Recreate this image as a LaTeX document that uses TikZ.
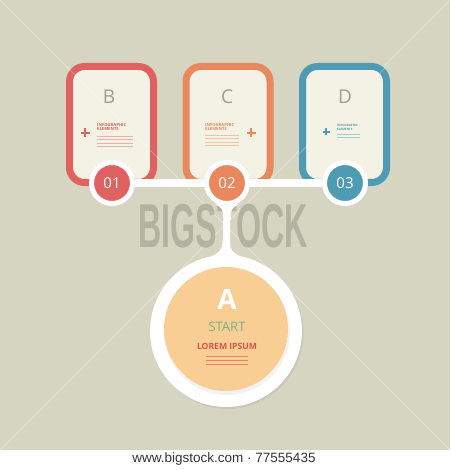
\documentclass[tikz,border=0pt]{standalone}
\usepackage{fontspec}
\setmainfont{Open Sans}
\newfontfamily\footfont{Liberation Sans}
\usetikzlibrary{calc,shadows}
\definecolor{bgc}{RGB}{213,213,193}
\definecolor{cream}{RGB}{244,242,228}
\definecolor{cred}{RGB}{223,98,96}
\definecolor{corange}{RGB}{232,136,92}
\definecolor{cblue}{RGB}{78,156,180}
\definecolor{peach}{RGB}{248,206,148}
\definecolor{sgreen}{RGB}{124,176,130}
\definecolor{lred}{RGB}{215,86,76}
\definecolor{lettergrey}{RGB}{160,160,140}
\definecolor{wm}{RGB}{150,150,135}
\pgfdeclarelayer{back}
\pgfdeclarelayer{mid}
\pgfsetlayers{back,mid,main}
\tikzset{
  card/.style={draw=#1, line width=7pt, fill=cream, rounded corners=15pt,
    minimum width=84pt, minimum height=116pt, inner sep=0pt},
  numdot/.style={circle, draw=white, line width=5pt, fill=#1, minimum size=41pt,
    inner sep=0pt, text=white, font=\fontsize{15}{15}\selectfont,
    drop shadow={opacity=0.18, shadow xshift=1pt, shadow yshift=-1.5pt}},
  letter/.style={text=lettergrey, font=\fontsize{19}{19}\selectfont},
  tiny/.style={font=\bfseries\fontsize{4.2}{4.6}\selectfont, align=left, inner sep=0pt, anchor=north west, text=#1},
  fake/.style={line width=0.6pt, draw=#1!45!cream},
  plus/.style={line width=2.6pt, draw=#1},
}
\begin{document}
\begin{tikzpicture}[x=1pt,y=-1pt]
\useasboundingbox (0,0) rectangle (450,470);
\begin{pgfonlayer}{back}
\fill[bgc] (0,0) rectangle (450,450);
\fill[white] (0,450) rectangle (450,470);
\draw[white, opacity=0.35, line width=1pt] (0,0) -- (450,450);
\draw[white, opacity=0.35, line width=1pt] (450,0) -- (0,450);
% cards
\node[card=cred] (bB) at (111.5,124.5) {};
\node[card=corange] (bC) at (228,124.5) {};
\node[card=cblue] (bD) at (344.5,124.5) {};
\draw[white, opacity=0.25, line width=1pt] (66,66) -- (158,158);
\draw[white, opacity=0.25, line width=1pt] (391,62) -- (298,155);
\node[letter] (lB) at (109,97) {B};
\node[letter] (lC) at (227,97) {C};
\node[letter] (lD) at (345,97) {D};
% card B content
\draw[plus=cred] (80.5,133) -- (89.5,133) (85,128.5) -- (85,137.5);
\node[tiny=cred] (tB) at (97,123) {INFOGRAPHIC\\ELEMENTS};
\foreach \yy in {136,139.5,143,146.5} \draw[fake=cred] (97,\yy) -- (133,\yy);
% card C content
\draw[plus=corange] (246.5,133) -- (255.5,133) (251,128.5) -- (251,137.5);
\node[tiny=corange] (tC) at (205,123) {INFOGRAPHIC\\ELEMENTS};
\foreach \yy in {135,138.5,142,145} \draw[fake=corange] (205,\yy) -- (239,\yy);
% card D content
\draw[plus=cblue, line width=2pt] (322.5,132) -- (329.5,132) (326,128.5) -- (326,135.5);
\node[tiny=cblue, font=\bfseries\fontsize{3}{3.4}\selectfont] (tD) at (337,124.5) {INFOGRAPHIC\\ELEMENTS};
\foreach \yy in {134.5,137.5} \draw[fake=cblue] (337,\yy) -- (360,\yy);
\end{pgfonlayer}
% number circles and big circle
\node[numdot=cred] (c1) at (112,183) {01};
\node[numdot=corange] (c2) at (227,183) {02};
\node[numdot=cblue] (c3) at (345,183) {03};
\node[circle, fill=white, minimum size=152pt, inner sep=0pt,
  drop shadow={opacity=0.15, shadow xshift=1.5pt, shadow yshift=-2pt}] (A) at (226,331) {};
\fill[black, opacity=0.05] ($(A.center)+(1,1)$) circle (63pt);
\fill[peach] ($(A.center)+(0,-2)$) circle (62pt);
\node[text=white, font=\fontsize{28}{28}\selectfont\bfseries] (tA) at (227,299) {A};
\node[text=sgreen, font=\fontsize{13}{13}\selectfont] (tS) at (227,327) {START};
\node[text=lred, font=\bfseries\fontsize{8.6}{8.6}\selectfont] (tL) at (227,346) {LOREM IPSUM};
\foreach \yy in {356,360,364} \draw[line width=0.6pt, draw=lred!60!peach] (206,\yy) -- (248,\yy);
\begin{pgfonlayer}{mid}
\node[text=wm, opacity=0.55, font=\footfont\bfseries\fontsize{62}{62}\selectfont, inner sep=0pt] (wmk) at (223,226) {\scalebox{0.52}[1]{BIGSTOCK}};
\draw[white, line width=8pt] (c1) -- (c3);
\draw[white, line width=7pt] (c2) -- (A);
\fill[white] ($(A.north)+(-3.5,-14)$) .. controls ($(A.north)+(-3.5,-3)$) and ($(A.north)+(-9,0)$) .. ($(A.north)+(-24,5)$) -- ($(A.north)+(24,5)$) .. controls ($(A.north)+(9,0)$) and ($(A.north)+(3.5,-3)$) .. ($(A.north)+(3.5,-14)$) -- cycle;
\fill[white] ($(c2.south)+(-3.5,12)$) .. controls ($(c2.south)+(-3.5,3)$) and ($(c2.south)+(-6,1)$) .. ($(c2.south)+(-12,-2)$) -- ($(c2.south)+(12,-2)$) .. controls ($(c2.south)+(6,1)$) and ($(c2.south)+(3.5,3)$) .. ($(c2.south)+(3.5,12)$) -- cycle;
\end{pgfonlayer}
\node[text=black!80, font=\footfont\fontsize{13.5}{13.5}\selectfont] (foot) at (224,459.5) {www.bigstock.com · 77555435};
\end{tikzpicture}
\end{document}
